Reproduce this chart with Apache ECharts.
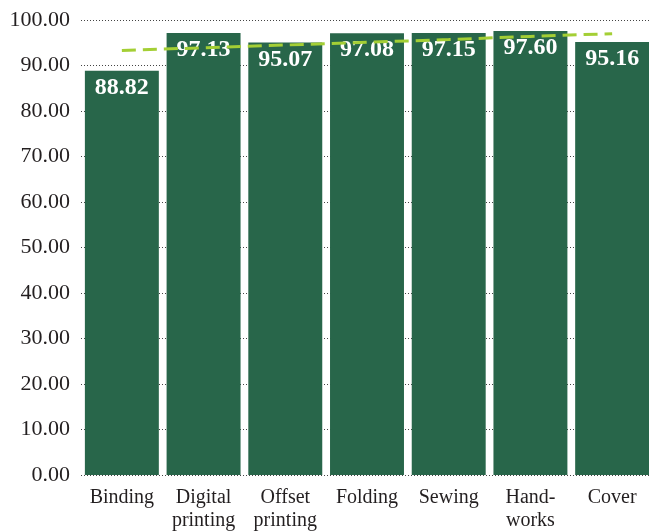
<!DOCTYPE html>
<html>
<head>
<meta charset="utf-8">
<script src="https://cdn.jsdelivr.net/npm/echarts@6/dist/echarts.min.js"></script>
<style>
  html, body { margin: 0; padding: 0; background: #fff; }
  #chart { width: 649px; height: 532px; }
</style>
</head>
<body>
<div id="chart"></div>
<script>
// categories and values
const categories = ['Binding', 'Digital\nprinting', 'Offset\nprinting', 'Folding', 'Sewing', 'Hand-\nworks', 'Cover'];
const scores = [88.82, 97.13, 95.07, 97.08, 97.15, 97.60, 95.16];
// dashed trend line, read at each category centre
const trend = [93.3, 93.9, 94.5, 95.1, 95.7, 96.4, 97.0];
const yTicks = { min: 0, max: 100, interval: 10 };

const barColor = '#28664a';
const trendColor = '#a4cf35';
const textColor = '#231f20';
const serif = '"Liberation Serif", "DejaVu Serif", serif';

const chart = echarts.init(document.getElementById('chart'));

const option = {
  animation: false,
  grid: {
    left: 81,
    top: 20,
    width: 572,
    height: 455,
    containLabel: false,
    outerBoundsMode: 'none',
  },
  xAxis: {
    type: 'category',
    data: categories,
    axisLine: { show: false },
    axisTick: { show: false },
    axisLabel: {
      color: textColor,
      fontFamily: serif,
      fontSize: 20,
      lineHeight: 23,
      margin: 11,
      interval: 0,
    },
  },
  yAxis: {
    type: 'value',
    min: yTicks.min,
    max: yTicks.max,
    interval: yTicks.interval,
    axisLine: { show: false },
    axisTick: { show: false },
    axisLabel: {
      color: textColor,
      fontFamily: serif,
      fontSize: 22,
      margin: 11,
      formatter: (v) => v.toFixed(2),
    },
    splitLine: {
      show: true,
      lineStyle: { color: '#444', width: 1, type: [1, 2] },
    },
  },
  series: [
    {
      name: 'Score',
      type: 'bar',
      data: scores,
      barCategoryGap: '9.5%',
      itemStyle: { color: barColor },
      label: {
        show: true,
        position: 'insideTop',
        distance: 5,
        color: '#fff',
        fontFamily: serif,
        fontWeight: 'bold',
        fontSize: 24,
        formatter: (p) => p.value.toFixed(2),
      },
      z: 2,
    },
    {
      name: 'Trend',
      type: 'line',
      data: trend,
      symbol: 'none',
      lineStyle: { color: trendColor, width: 3, type: [14, 7] },
      z: 5,
    },
  ],
};

chart.setOption(option);
</script>
</body>
</html>
